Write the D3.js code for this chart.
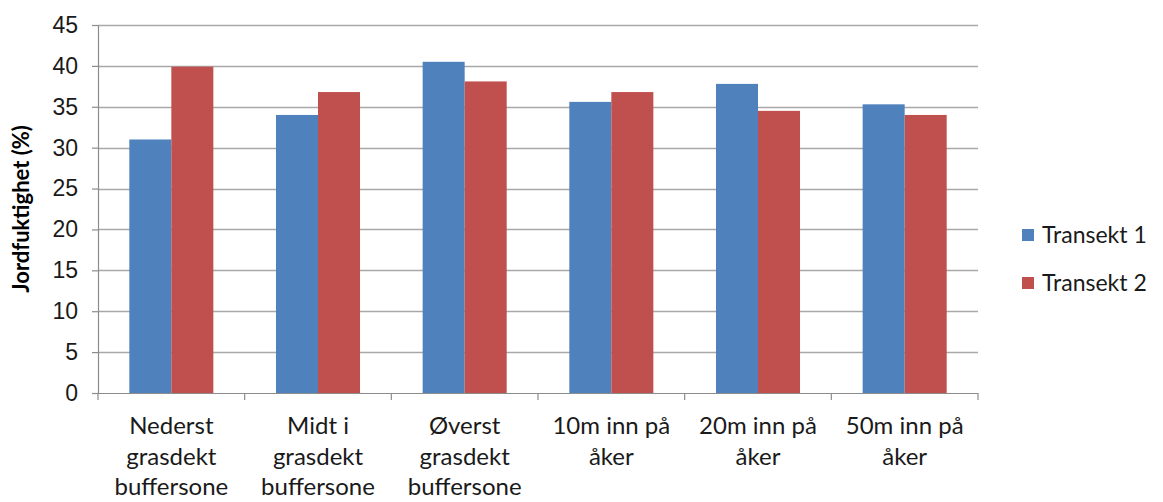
<!DOCTYPE html>
<html>
<head>
<meta charset="utf-8">
<script src="https://cdn.jsdelivr.net/npm/d3@7"></script>
<style>
  html, body { margin: 0; padding: 0; background: #fff; }
  svg { display: block; font-family: Lato, "Open Sans", sans-serif; }
</style>
</head>
<body>
<svg id="chart" width="1163" height="502"></svg>
<script>
// Soil moisture along two transects
const categories = [
  ["Nederst", "grasdekt", "buffersone"],
  ["Midt i", "grasdekt", "buffersone"],
  ["Øverst", "grasdekt", "buffersone"],
  ["10m inn på", "åker"],
  ["20m inn på", "åker"],
  ["50m inn på", "åker"]
];
const seriesNames = ["Transekt 1", "Transekt 2"];
const transekt1 = [31.0, 34.0, 40.5, 35.6, 37.8, 35.3];
const transekt2 = [39.9, 36.8, 38.1, 36.8, 34.5, 34.0];
const yTicks = [0, 5, 10, 15, 20, 25, 30, 35, 40, 45];
const colors = ["#4F81BD", "#C0504D"];
const yTitle = "Jordfuktighet (%)";

const svg = d3.select("#chart");
const margin = { left: 98, right: 185, top: 25, bottom: 109 };
const W = 1163, H = 502;
const innerW = W - margin.left - margin.right;
const innerH = H - margin.top - margin.bottom;

const g = svg.append("g").attr("transform", `translate(${margin.left},${margin.top})`);

const idx = d3.range(categories.length);
const x = d3.scaleBand().domain(idx).range([0, innerW]).paddingInner(0.427).paddingOuter(0.2135);
const xs = d3.scaleBand().domain(d3.range(seriesNames.length)).range([0, x.bandwidth()]);
const y = d3.scaleLinear().domain([0, 45]).range([innerH, 0]);

// horizontal gridlines
g.append("g").selectAll("line").data(yTicks.filter(d => d > 0)).join("line")
  .attr("x1", 0).attr("x2", innerW)
  .attr("y1", d => Math.round(y(d)) + 0.5).attr("y2", d => Math.round(y(d)) + 0.5)
  .attr("stroke", "#a8a8a8").attr("stroke-width", 1.3);

// bars
const rows = idx.map(i => [transekt1[i], transekt2[i]]);
g.append("g").selectAll("g").data(rows).join("g")
  .attr("transform", (d, i) => `translate(${x(i)},0)`)
  .selectAll("rect").data(d => d).join("rect")
  .attr("x", (d, j) => xs(j))
  .attr("width", xs.bandwidth())
  .attr("y", d => y(d))
  .attr("height", d => innerH - y(d))
  .attr("fill", (d, j) => colors[j]);

// y axis
const yAxis = g.append("g")
  .call(d3.axisLeft(y).tickValues(yTicks).tickSize(6).tickPadding(14).tickSizeOuter(0));
yAxis.select(".domain").attr("stroke", "#8c8c8c").attr("stroke-width", 1.2);
yAxis.selectAll(".tick line").attr("stroke", "#8c8c8c").attr("stroke-width", 1.2);
yAxis.selectAll(".tick text").attr("font-size", 23).attr("fill", "#1a1a1a");

// x axis: baseline with tick marks on category boundaries
const xAxisG = g.append("g").attr("transform", `translate(0,${innerH})`);
xAxisG.append("line").attr("x1", 0).attr("x2", innerW).attr("y1", 0.5).attr("y2", 0.5)
  .attr("stroke", "#8c8c8c").attr("stroke-width", 1.2);
const step = x.step();
xAxisG.selectAll("line.tk").data(d3.range(categories.length + 1)).join("line")
  .attr("class", "tk")
  .attr("x1", d => d === 0 ? 0 : x(d - 1) + x.bandwidth() + step * x.paddingInner() / 2)
  .attr("x2", d => d === 0 ? 0 : x(d - 1) + x.bandwidth() + step * x.paddingInner() / 2)
  .attr("y1", 0).attr("y2", 7)
  .attr("stroke", "#8c8c8c").attr("stroke-width", 1.2);

const labels = xAxisG.selectAll("text.cat").data(categories).join("text")
  .attr("class", "cat")
  .attr("text-anchor", "middle")
  .attr("font-size", 24).attr("fill", "#1a1a1a")
  .attr("transform", (d, i) => `translate(${x(i) + x.bandwidth() / 2},0)`);
labels.selectAll("tspan").data(d => d).join("tspan")
  .attr("x", 0).attr("y", (d, k) => 41 + k * 30.5)
  .text(d => d);

// y axis title
svg.append("text")
  .attr("transform", `translate(29,${margin.top + innerH / 2}) rotate(-90)`)
  .attr("text-anchor", "middle")
  .attr("font-size", 22).attr("font-weight", "bold").attr("fill", "#000")
  .text(yTitle);

// legend
const legend = svg.append("g").attr("transform", "translate(1022,229)");
const li = legend.selectAll("g").data(seriesNames).join("g")
  .attr("transform", (d, i) => `translate(0,${i * 48})`);
li.append("rect").attr("width", 12).attr("height", 12).attr("fill", (d, i) => colors[i]);
li.append("text").attr("x", 20).attr("y", 14).attr("font-size", 23).attr("fill", "#1a1a1a").text(d => d);
</script>
</body>
</html>
